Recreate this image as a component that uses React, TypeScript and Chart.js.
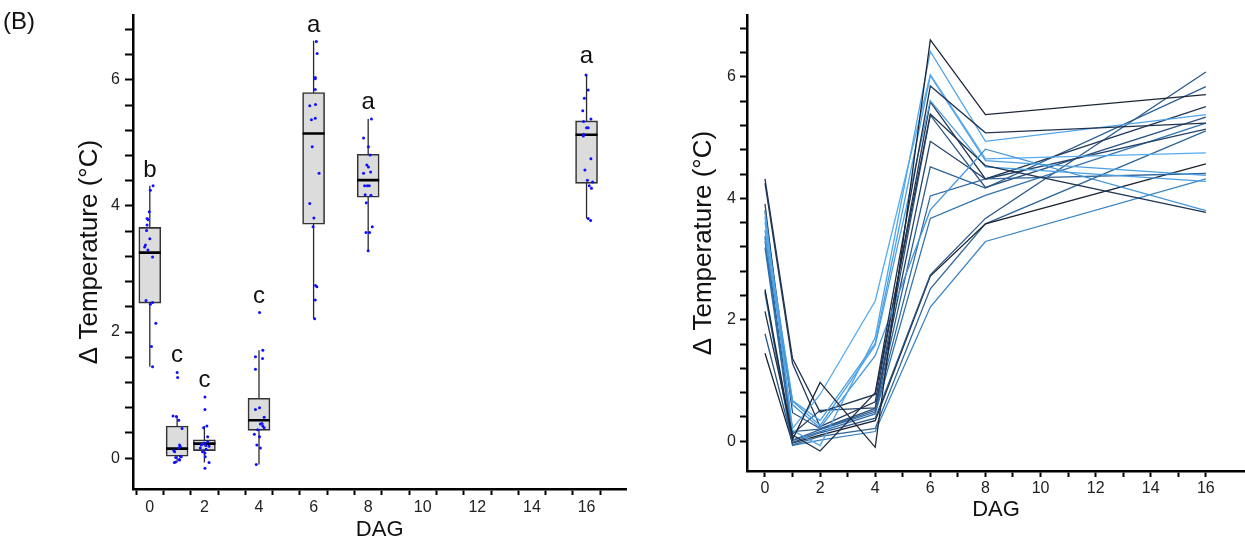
import React, { useEffect, useRef } from "react";
import { Chart, registerables } from "chart.js";

Chart.register(...registerables);

const FONT = '"Liberation Sans", Arial, Helvetica, sans-serif';

// ---- data ----
const dag = [0, 1, 2, 4, 6, 8, 16];
const xTickValues = [0, 1, 2, 3, 4, 5, 6, 7, 8, 9, 10, 11, 12, 13, 14, 15, 16];
const yTickValues = [0, 0.4, 0.8, 1.2, 1.6, 2, 2.4, 2.8, 3.2, 3.6, 4, 4.4, 4.8, 5.2, 5.6, 6, 6.4, 6.8];
const yLabelValues = [0, 2, 4, 6];

// box-plot statistics per DAG
const whiskerLow = [1.45, -0.07, -0.07, -0.1, 2.21, 3.29, 3.8];
const q1 = [2.46, 0.03, 0.12, 0.44, 3.71, 4.14, 4.36];
const median = [3.26, 0.15, 0.23, 0.6, 5.15, 4.41, 5.13];
const q3 = [3.66, 0.51, 0.29, 0.95, 5.8, 4.82, 5.35];
const whiskerHigh = [4.32, 0.67, 0.51, 1.71, 6.62, 5.38, 6.08];

// significance letters
const letterText = ["b", "c", "c", "c", "a", "a", "a"];
const letterY = [4.46, 1.52, 1.13, 2.46, 6.76, 5.54, 6.27];

// individual plants (values at DAG 0,1,2,4,6,8,16)
const lineA = [2.5, 0.03, 0.97, -0.1, 6.61, 5.38, 5.71];
const lineB = [2.14, 0.1, -0.16, 0.8, 5.85, 5.08, 5.24];
const lineC = [3.78, 0.18, -0.07, 1.71, 6.42, 4.94, 5.38];
const lineD = [3.35, 0.6, 0.22, 1.41, 3.81, 4.81, 3.8];
const lineE = [3.7, 0.21, 0.77, 2.31, 6.04, 4.65, 4.75];
const lineF = [3.61, 0.67, 0.34, 1.61, 6.02, 4.62, 4.38];
const lineG = [4.32, 1.36, 0.48, 0.77, 5.39, 4.54, 3.77];
const lineH = [3.48, 0.66, 0.26, 1.58, 5.61, 4.52, 4.28];
const lineI = [4.25, 1.28, 0.24, 0.65, 5.59, 4.32, 5.51];
const lineJ = [3.3, 0.02, 0.19, 0.48, 4.04, 4.32, 4.41];
const lineK = [3.91, 0.12, 0.51, 0.55, 4.94, 4.32, 5.14];
const lineL = [3.8, 0.47, 0.21, 0.54, 5.37, 4.18, 5.34];
const lineM = [3.38, 0.16, 0.2, 0.51, 4.52, 4.17, 5.84];
const lineN = [3.19, 0.01, 0.16, 0.45, 3.67, 4.05, 5.24];
const lineO = [1.77, -0.02, 0.14, 0.38, 2.74, 3.67, 6.08];
const lineP = [1.45, -0.03, 0.1, 0.34, 2.72, 3.58, 4.57];
const lineQ = [2.47, -0.06, 0.08, 0.21, 2.51, 3.58, 5.11];
const lineR = [2.44, -0.07, 0.02, 0.16, 2.21, 3.29, 4.32];

const plants = [lineA, lineB, lineC, lineD, lineE, lineF, lineG, lineH, lineI, lineJ, lineK, lineL, lineM, lineN, lineO, lineP, lineQ, lineR];
const plantColors = [
  "#1b2536", "#22324a", "#4fa5ea", "#4596d8", "#55abef", "#4aa0e4",
  "#1f3552", "#4a9fe2", "#24395a", "#3068a0", "#27446a", "#2b5280",
  "#2e5f92", "#3372ad", "#2a5788", "#1a2230", "#2f6698", "#3a84c4",
];

// horizontal jitter of the dots in the box plot (per DAG, per plant)
const jitter0 = [-0.14, 0.22, -0.06, -0.19, -0.1, -0.12, 0.12, 0.0, 0.02, -0.07, -0.02, -0.1, -0.16, 0.1, 0.06, 0.1, 0.1, 0.02];
const jitter1 = [0.12, -0.09, 0.12, 0.06, 0.09, -0.15, 0.0, -0.03, 0.02, 0.15, -0.12, 0.18, 0.05, -0.05, 0.08, 0.09, -0.06, -0.1];
const jitter2 = [0.02, 0.02, 0.17, -0.09, 0.02, 0.12, -0.03, 0.12, -0.01, 0.17, 0.09, -0.12, 0.05, -0.15, 0.06, -0.07, 0.02, 0.03];
const jitter4 = [-0.1, 0.02, 0.14, -0.13, 0.02, -0.13, -0.13, 0.13, 0.19, 0.19, 0.11, 0.05, 0.14, -0.05, -0.17, 0.02, -0.08, 0.05];
const jitter6 = [0.1, 0.06, 0.13, 0.01, 0.06, 0.06, 0.06, 0.07, -0.14, -0.14, -0.05, -0.08, 0.2, -0.02, 0.07, 0.12, 0.06, 0.04];
const jitter8 = [0.12, -0.17, 0.01, 0.07, -0.05, 0.01, 0.09, -0.17, -0.13, -0.03, 0.04, -0.11, 0.1, -0.07, 0.15, -0.08, 0.05, 0.0];
const jitter16 = [-0.08, 0.0, 0.16, 0.06, 0.16, 0.22, 0.15, 0.18, -0.14, 0.03, -0.1, -0.11, 0.06, 0.06, -0.02, -0.06, -0.12, 0.1];
const jitters = [jitter0, jitter1, jitter2, jitter4, jitter6, jitter8, jitter16];

// ---- helpers ----
const tickFont = { family: FONT, size: 16 };

function xScale(min: number, max: number, height: number, labelPad: number, titlePadBottom: number) {
  return {
    type: "linear" as const,
    min,
    max,
    offset: false,
    afterBuildTicks: (s: any) => {
      s.ticks = xTickValues.map((v) => ({ value: v }));
    },
    afterFit: (s: any) => {
      s.height = height;
    },
    ticks: {
      autoSkip: false,
      maxRotation: 0,
      padding: labelPad,
      color: "#222",
      font: tickFont,
      callback: (v: any) => (Number(v) % 2 === 0 ? String(v) : ""),
    },
    grid: { display: true, drawOnChartArea: false, drawTicks: true, tickLength: 6, tickWidth: 2, tickColor: "#000" },
    border: { display: true, color: "#000", width: 2.5 },
    title: { display: true, text: "DAG", color: "#111", font: { family: FONT, size: 22 }, padding: { top: 0, bottom: titlePadBottom } },
  };
}

function yScale(min: number, max: number, width: number, tickLen: number, labelPad: number, titlePadTop: number) {
  return {
    type: "linear" as const,
    min,
    max,
    afterBuildTicks: (s: any) => {
      s.ticks = yTickValues.map((v) => ({ value: v }));
    },
    afterFit: (s: any) => {
      s.width = width;
    },
    ticks: {
      autoSkip: false,
      padding: labelPad,
      color: "#222",
      font: tickFont,
      callback: (v: any) => (yLabelValues.includes(Number(v)) ? String(v) : ""),
    },
    grid: { display: true, drawOnChartArea: false, drawTicks: true, tickLength: tickLen, tickWidth: 2, tickColor: "#000" },
    border: { display: true, color: "#000", width: 2.5 },
    title: {
      display: true,
      text: "Δ Temperature (°C)",
      color: "#111",
      font: { family: FONT, size: 26 },
      padding: { top: titlePadTop, bottom: 0 },
    },
  };
}

const lettersPlugin = {
  id: "letters",
  afterDatasetsDraw(chart: any) {
    const { ctx, scales } = chart;
    ctx.save();
    ctx.font = `24px ${FONT}`;
    ctx.fillStyle = "#111";
    ctx.textAlign = "center";
    ctx.textBaseline = "alphabetic";
    dag.forEach((d, i) => {
      ctx.fillText(letterText[i], scales.x.getPixelForValue(d), scales.y.getPixelForValue(letterY[i]));
    });
    ctx.restore();
  },
};

export default function App() {
  const leftRef = useRef<HTMLCanvasElement>(null);
  const rightRef = useRef<HTMLCanvasElement>(null);

  useEffect(() => {
    Chart.defaults.font.family = FONT;

    const whiskerSets = dag.map((d, i) => ({
      type: "line" as const,
      data: [
        { x: d, y: whiskerLow[i] },
        { x: d, y: whiskerHigh[i] },
      ],
      showLine: true,
      borderColor: "#2a2a2a",
      borderWidth: 1.3,
      pointRadius: 0,
      order: 4,
    }));

    const boxSet = {
      type: "bar" as const,
      data: dag.map((d, i) => ({ x: d, y: [q1[i], q3[i]] })),
      backgroundColor: "#dcdcdc",
      borderColor: "#333333",
      borderWidth: 1.6,
      borderSkipped: false,
      barThickness: 22,
      grouped: false,
      order: 3,
    };

    const medianSet = {
      type: "scatter" as const,
      data: dag.map((d, i) => ({ x: d, y: median[i] })),
      pointStyle: "line",
      pointRadius: 11,
      pointBorderColor: "#000",
      pointBorderWidth: 2.6,
      order: 2,
    };

    const dots: { x: number; y: number }[] = [];
    dag.forEach((d, j) => {
      plants.forEach((p, k) => {
        dots.push({ x: d + jitters[j][k], y: p[j] });
      });
    });
    const dotSet = {
      type: "scatter" as const,
      data: dots,
      pointRadius: 1.5,
      pointBackgroundColor: "#1010ff",
      pointBorderWidth: 0,
      order: 1,
    };

    const left = new Chart(leftRef.current!, {
      type: "scatter",
      data: { datasets: [...whiskerSets, boxSet, medianSet, dotSet] as any },
      options: {
        responsive: false,
        animation: false,
        devicePixelRatio: 1,
        events: [],
        layout: { padding: { left: 0, right: 8, top: 15, bottom: 0 } },
        plugins: { legend: { display: false }, tooltip: { enabled: false } },
        scales: {
          x: xScale(-0.616, 17.46, 54, 3, 0),
          y: yScale(-0.49, 7.03, 133, 8, 5, 74),
        } as any,
      },
      plugins: [lettersPlugin],
    });

    const lineSets = plants.map((p, k) => ({
      type: "scatter" as const,
      data: dag.map((d, j) => ({ x: d, y: p[j] })),
      showLine: true,
      borderColor: plantColors[k],
      borderWidth: 1.3,
      pointRadius: 0,
      tension: 0,
    }));

    const right = new Chart(rightRef.current!, {
      type: "scatter",
      data: { datasets: lineSets as any },
      options: {
        responsive: false,
        animation: false,
        devicePixelRatio: 1,
        events: [],
        layout: { padding: { left: 0, right: 0, top: 15, bottom: 0 } },
        plugins: { legend: { display: false }, tooltip: { enabled: false } },
        scales: {
          x: xScale(-0.653, 17.42, 72, 2, 20),
          y: yScale(-0.49, 7.02, 107, 7, 4, 48),
        } as any,
      },
    });

    return () => {
      left.destroy();
      right.destroy();
    };
  }, []);

  return (
    <div style={{ position: "absolute", left: 0, top: 0, width: 1245, height: 543, background: "#fff" }}>
      <canvas ref={leftRef} width={640} height={543} style={{ position: "absolute", left: 0, top: 0, width: 640, height: 543 }} />
      <canvas ref={rightRef} width={605} height={543} style={{ position: "absolute", left: 640, top: 0, width: 605, height: 543 }} />
      <div
        style={{
          position: "absolute",
          left: 3,
          top: 9,
          fontFamily: FONT,
          fontSize: 24,
          lineHeight: "24px",
          color: "#111",
        }}
      >
        (B)
      </div>
    </div>
  );
}
